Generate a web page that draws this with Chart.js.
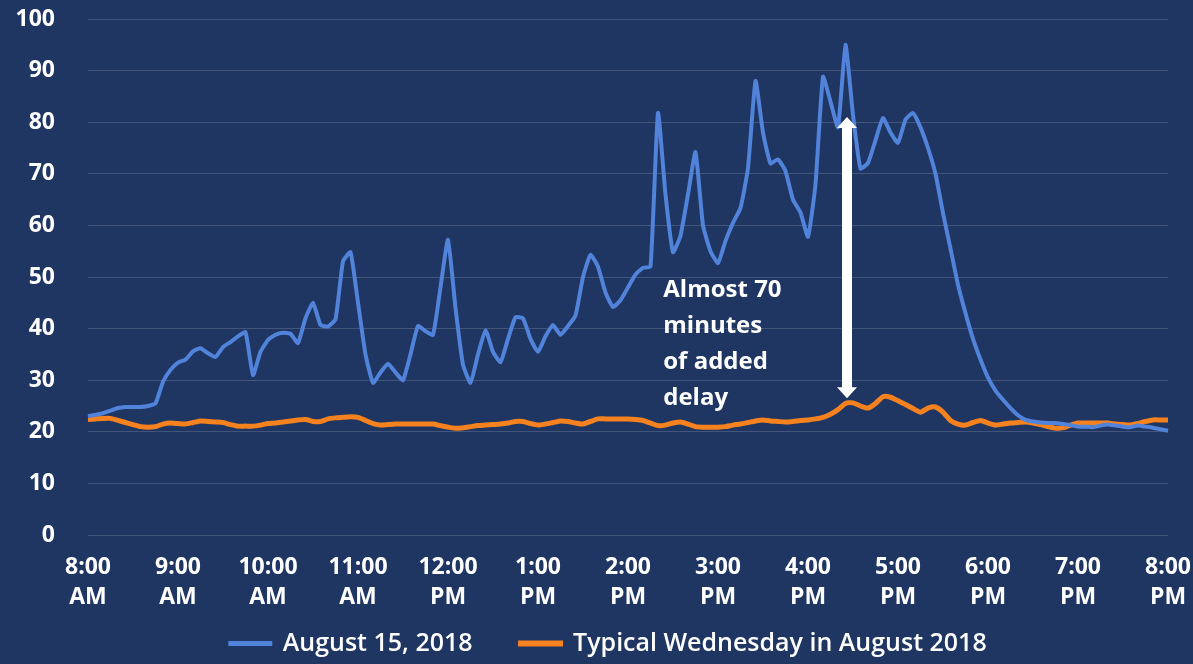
<!DOCTYPE html>
<html>
<head>
<meta charset="utf-8">
<script src="https://cdn.jsdelivr.net/npm/chart.js@4.4.1/dist/chart.umd.min.js"></script>
<style>
  html, body { margin: 0; padding: 0; background: #1f3562; }
  #wrap { width: 1193px; height: 664px; }
</style>
</head>
<body>
<div id="wrap"><canvas id="chart" width="1193" height="664"></canvas></div>
<script>
// tick labels, one per hour
const hourLabels = [
  ['8:00', 'AM'], ['9:00', 'AM'], ['10:00', 'AM'], ['11:00', 'AM'], ['12:00', 'PM'],
  ['1:00', 'PM'], ['2:00', 'PM'], ['3:00', 'PM'], ['4:00', 'PM'], ['5:00', 'PM'],
  ['6:00', 'PM'], ['7:00', 'PM'], ['8:00', 'PM']
]
const slotsPerHour = 12 // 5 minute readings

// delay in minutes, 8:00 AM to 8:00 PM
const august15 = [
  23, 23.3, 23.6, 24.1, 24.6, 24.8, 24.8, 24.8, 25, 25.5,
  29.7, 32, 33.4, 34, 35.6, 36.2, 35.2, 34.5, 36.4, 37.4,
  38.5, 39.3, 31, 35.5, 37.8, 38.8, 39.2, 39, 37.2, 42,
  45, 40.7, 40.4, 41.8, 53, 54.8, 45, 35, 29.5, 31.5,
  33.2, 31.5, 30, 35, 40.5, 39.5, 38.8, 48, 57.2, 44,
  33, 29.5, 35, 39.7, 35.5, 33.5, 38, 42.2, 42, 38,
  35.5, 38.5, 40.7, 38.8, 40.5, 42.5, 50, 54.3, 52, 47,
  44.2, 45.5, 48, 50.5, 51.8, 52, 81.8, 66, 54.8, 58,
  66, 74.2, 60, 55, 52.7, 57, 60.5, 63.4, 71.1, 88,
  78, 72, 72.8, 70.5, 65, 62.5, 57.8, 68, 88.8, 84,
  79, 95, 81.4, 71, 72.1, 76.5, 80.8, 78, 76, 80.5,
  81.8, 79, 75, 70, 62.4, 55.5, 48.5, 43, 38, 34,
  30.5, 28, 26.2, 24.6, 23.2, 22.3, 22, 21.8, 21.7, 21.7,
  21.5, 21.3, 21, 21, 20.9, 21.2, 21.4, 21.2, 21, 20.9,
  21.2, 21, 20.8, 20.5, 20.2
]
const typicalWednesday = [
  22.4, 22.5, 22.6, 22.6, 22.2, 21.8, 21.4, 21, 20.9, 21,
  21.5, 21.7, 21.6, 21.5, 21.8, 22.1, 22, 21.9, 21.8, 21.4,
  21.1, 21.1, 21.1, 21.3, 21.6, 21.7, 21.9, 22.1, 22.3, 22.4,
  22, 22, 22.5, 22.7, 22.8, 22.9, 22.8, 22.2, 21.6, 21.3,
  21.4, 21.5, 21.5, 21.5, 21.5, 21.5, 21.5, 21.2, 20.9, 20.7,
  20.8, 21, 21.2, 21.3, 21.4, 21.5, 21.7, 22, 22, 21.6,
  21.3, 21.5, 21.8, 22.1, 22, 21.7, 21.5, 22, 22.5, 22.5,
  22.5, 22.5, 22.5, 22.4, 22.2, 21.7, 21.2, 21.3, 21.7, 21.9,
  21.5, 21, 20.9, 20.9, 20.9, 21, 21.3, 21.5, 21.8, 22.1,
  22.3, 22.1, 22, 21.9, 22, 22.2, 22.3, 22.5, 22.8, 23.4,
  24.3, 25.5, 25.6, 25, 24.6, 25.5, 26.8, 26.7, 26, 25.3,
  24.5, 23.8, 24.6, 24.8, 23.8, 22.2, 21.5, 21.3, 21.8, 22.2,
  21.7, 21.3, 21.5, 21.7, 21.8, 21.9, 21.7, 21.4, 21, 20.7,
  20.8, 21.3, 21.7, 21.7, 21.7, 21.7, 21.7, 21.5, 21.4, 21.3,
  21.6, 22, 22.3, 22.3, 22.3
]

// annotation
const noteLines = ['Almost 70', 'minutes', 'of added', 'delay']
const noteAt = { slot: 76.7, value: 47.5 }
const arrowAt = { slot: 101.2, from: 26.5, to: 81 }

// category per 5 minute slot
const slots = august15.map((_, i) => {
  const mins = 8 * 60 + i * 5
  const h = Math.floor(mins / 60), m = mins % 60
  return h + ':' + String(m).padStart(2, '0')
})

const FONT = '"Open Sans", "Noto Sans", sans-serif'

const delayArrow = {
  id: 'delayArrow',
  afterDatasetsDraw(chart) {
    const { ctx, scales: { x, y } } = chart
    const ax = x.getPixelForValue(arrowAt.slot)
    const top = y.getPixelForValue(arrowAt.to)
    const bot = y.getPixelForValue(arrowAt.from)
    ctx.save()
    ctx.fillStyle = '#ffffff'
    ctx.fillRect(ax - 5, top + 9, 10, bot - top - 18)
    ctx.beginPath()
    ctx.moveTo(ax, top); ctx.lineTo(ax + 10, top + 11); ctx.lineTo(ax - 10, top + 11)
    ctx.closePath(); ctx.fill()
    ctx.beginPath()
    ctx.moveTo(ax, bot); ctx.lineTo(ax + 10, bot - 11); ctx.lineTo(ax - 10, bot - 11)
    ctx.closePath(); ctx.fill()

    ctx.font = '700 24px ' + FONT
    ctx.textAlign = 'left'
    ctx.textBaseline = 'middle'
    const tx = x.getPixelForValue(noteAt.slot)
    const ty = y.getPixelForValue(noteAt.value)
    noteLines.forEach((t, i) => ctx.fillText(t, tx, ty + i * 36))
    ctx.restore()
  }
}

// legend: wide gap between items, but only 44px taken from the chart;
// the box is then stretched upward and a bit to the right
const legendBox = {
  id: 'legendBox',
  beforeUpdate(chart) {
    const lg = chart.legend
    if (lg && !lg._fixedFit) {
      const fit = lg.fit
      lg.fit = function () { fit.call(this); this.height = 44 }
      lg._fixedFit = true
    }
  },
  afterLayout(chart) {
    const lg = chart.legend
    lg.top = chart.height - 81
    lg.height = lg.bottom - lg.top
    lg.left = 49
    lg.width = lg.right - lg.left
  }
}

new Chart(document.getElementById('chart'), {
  type: 'line',
  data: {
    labels: slots,
    datasets: [
      {
        label: 'August 15, 2018',
        data: august15,
        borderColor: '#5083d9',
        backgroundColor: '#5083d9',
        borderWidth: 4,
        pointRadius: 0,
        tension: 0.15
      },
      {
        label: 'Typical Wednesday in August 2018',
        data: typicalWednesday,
        borderColor: '#f5821f',
        backgroundColor: '#f5821f',
        borderWidth: 5,
        pointRadius: 0,
        tension: 0.2
      }
    ]
  },
  options: {
    responsive: false,
    animation: false,
    devicePixelRatio: 1,
    layout: { padding: { top: 19, right: 25, bottom: 0, left: 0 } },
    plugins: {
      tooltip: { enabled: false },
      legend: {
        position: 'bottom',
        labels: {
          color: '#ffffff',
          font: { family: FONT, size: 25, weight: '600' },
          boxWidth: 40,
          boxHeight: 1,
          padding: 48
        }
      }
    },
    scales: {
      x: {
        grid: { display: false, drawTicks: false },
        border: { display: false },
        ticks: {
          autoSkip: false,
          maxRotation: 0,
          minRotation: 0,
          color: '#ffffff',
          padding: 18,
          font: { family: FONT, size: 23, weight: '700', lineHeight: 1.3 },
          callback: (v, i) => (i % slotsPerHour === 0 ? hourLabels[i / slotsPerHour] : null)
        },
        afterFit: (s) => { s.height = 85; s.paddingLeft = 0; s.paddingRight = 0 }
      },
      y: {
        min: 0,
        max: 100,
        grid: { color: 'rgba(255,255,255,0.16)', lineWidth: 1, drawTicks: false },
        border: { display: false },
        ticks: {
          stepSize: 10,
          color: '#ffffff',
          padding: 33,
          font: { family: FONT, size: 23, weight: '700' }
        },
        afterFit: (s) => { s.width = 88; s.paddingTop = 0; s.paddingBottom = 0 }
      }
    }
  },
  plugins: [delayArrow, legendBox]
})
</script>
</body>
</html>
